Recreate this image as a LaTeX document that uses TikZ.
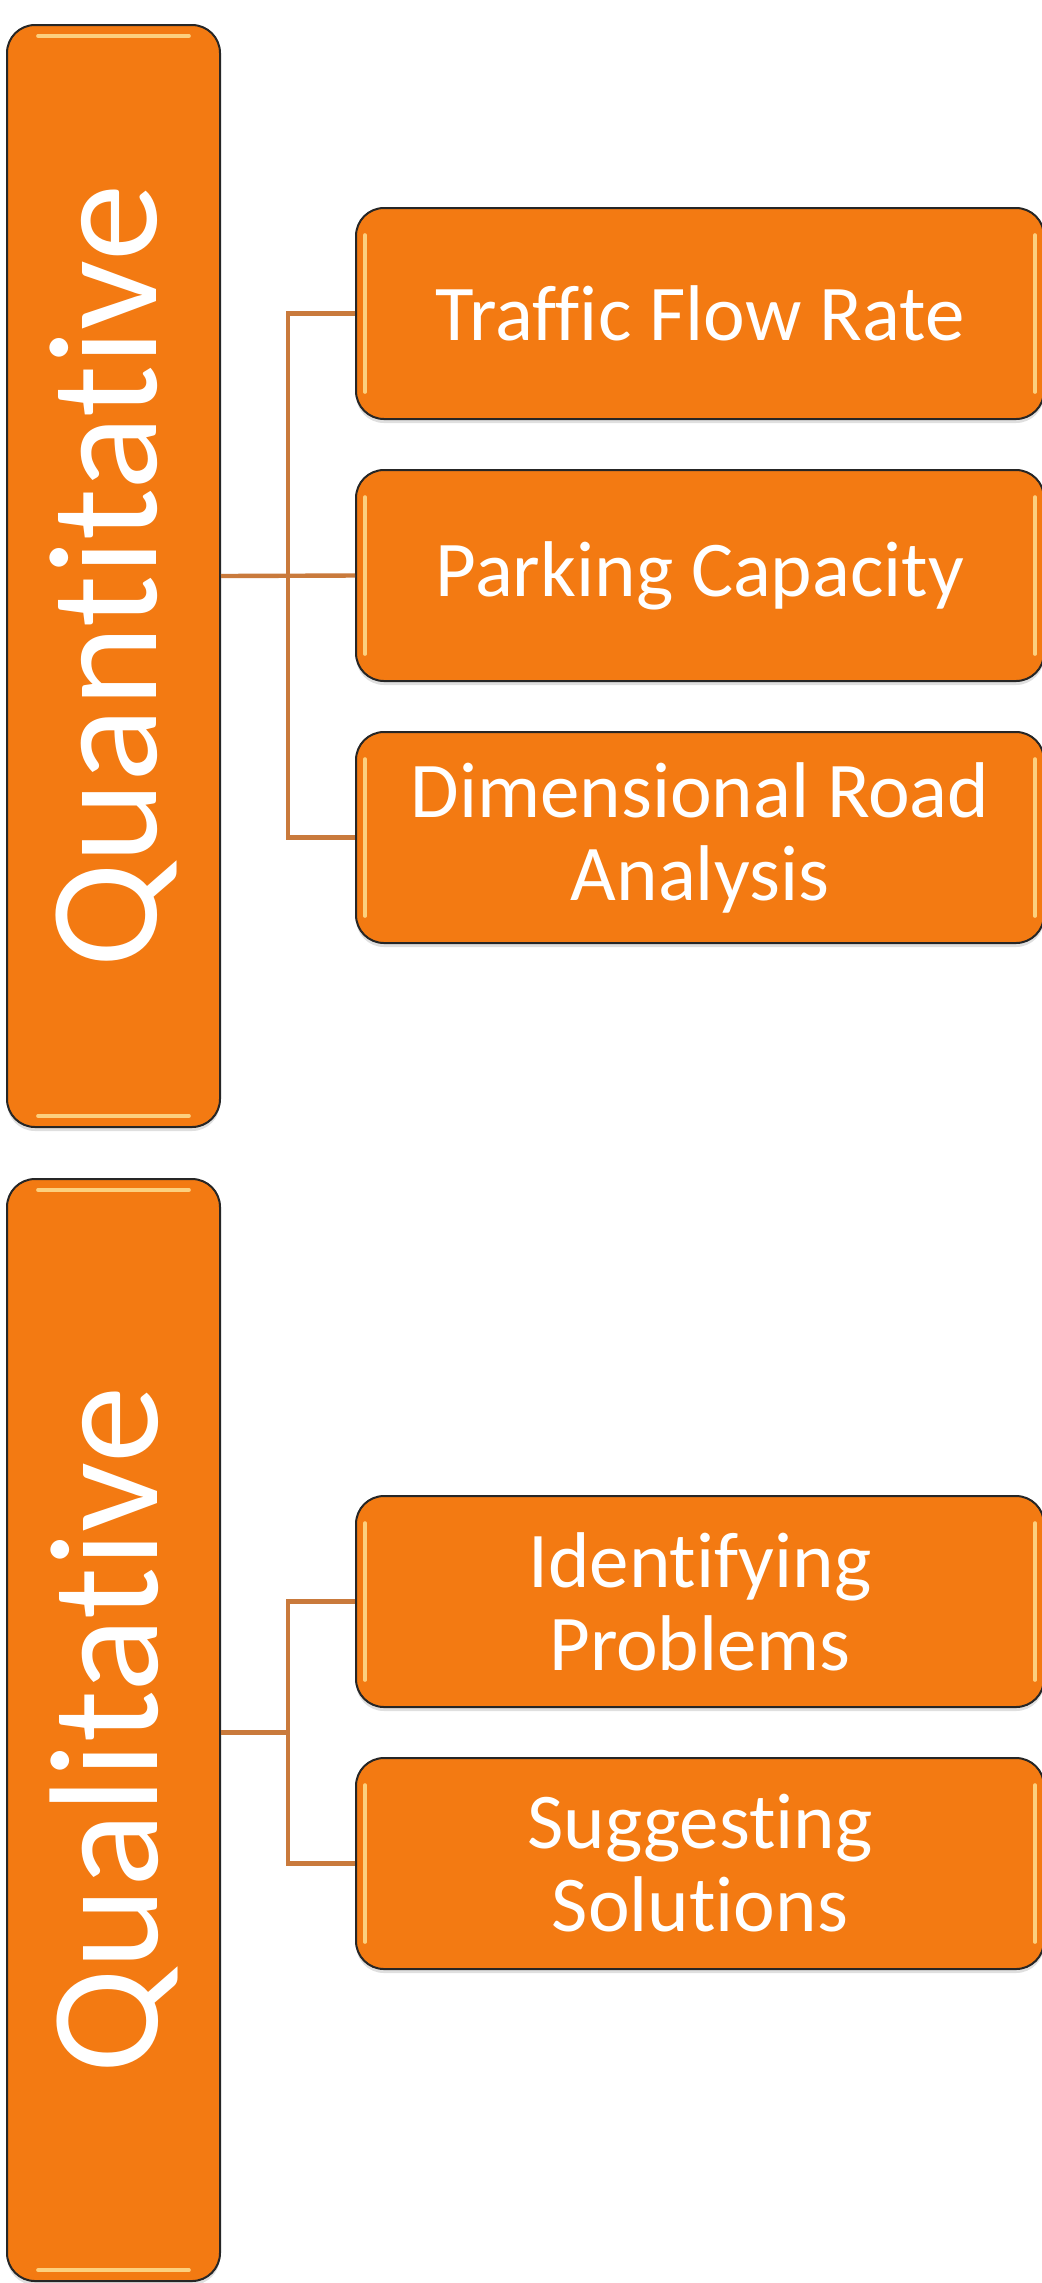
\documentclass[tikz,border=0pt]{standalone}
\usepackage{fontspec}
\setmainfont{Carlito}[Ligatures={NoCommon}]
\usepackage{xcolor}
\usetikzlibrary{calc,shadows}
\definecolor{boxorange}{HTML}{F37A12}
\definecolor{linkbrown}{HTML}{C97A3C}
\definecolor{gloss}{HTML}{FFE69A}

\begin{document}
\begin{tikzpicture}[x=0.5pt, y=-0.5pt, box/.style={rectangle, rounded corners=14pt, draw=black!85, line width=1pt, fill=boxorange, text=white, drop shadow={shadow xshift=0pt, shadow yshift=-2pt, opacity=0.25}}, main node/.style={box, minimum width=106.5pt, minimum height=551pt}, sub node/.style={box, minimum width=344pt, minimum height=105.5pt, align=center, font=\fontsize{39.5}{41.5}\selectfont}, side/.style={rotate=90, text=white, font=\fontsize{77.5}{93}\selectfont}, link/.style={draw=linkbrown, line width=2.2pt}, shine/.style={draw=gloss, line width=1.8pt, line cap=round, opacity=0.8}]
\useasboundingbox (0,0) rectangle (1042,2283);
\node[main node, label={[side]center:Quantitative}] (1) at (113.5,576) {};
\node[main node, label={[side]center:Qualitative}] (2) at (113.5,1730) {};
\node[sub node] (3) at (700,313.5) {Traffic Flow Rate};
\node[sub node] (4) at (700,575.5) {Parking Capacity};
\node[sub node] (5) at (700,837.5) {Dimensional Road\\Analysis};
\node[sub node] (6) at (700,1601.5) {Identifying\\Problems};
\node[sub node] (7) at (700,1863.5) {Suggesting\\Solutions};
\coordinate (a) at (288,575.5);
\coordinate (b) at (288,1732.5);
\draw[link] (3.west) -| (a) |- (5.west);
\draw[link] (1.east) -- (4.west);
\draw[link] (6.west) -| (b) |- (7.west);
\draw[link] (2.east |- b) -- (b);
\foreach \n in {1,2} {
  \draw[shine] ($(\n.north west)+(16pt,-6pt)$) -- ($(\n.north east)+(-16pt,-6pt)$);
  \draw[shine] ($(\n.south west)+(16pt,6pt)$) -- ($(\n.south east)+(-16pt,6pt)$);
}
\foreach \n in {3,...,7} {
  \draw[shine] ($(\n.north west)+(5pt,-14pt)$) -- ($(\n.south west)+(5pt,14pt)$);
  \draw[shine] ($(\n.north east)+(-5pt,-14pt)$) -- ($(\n.south east)+(-5pt,14pt)$);
}
\end{tikzpicture}
\end{document}
